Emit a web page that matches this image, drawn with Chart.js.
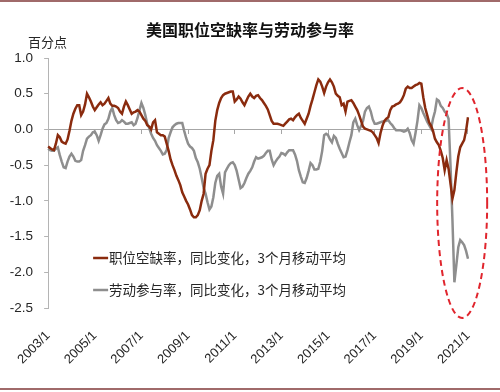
<!DOCTYPE html>
<html>
<head>
<meta charset="utf-8">
<script src="https://cdn.jsdelivr.net/npm/chart.js@4.4.1/dist/chart.umd.min.js"></script>
<style>
  html, body { margin: 0; padding: 0; background: #ffffff; }
  #wrap { width: 500px; height: 392px; position: relative; }
</style>
</head>
<body>
<div id="wrap"><canvas id="c" width="500" height="392"></canvas></div>
<script>
// ---------- data ----------
const titleText = '美国职位空缺率与劳动参与率';
const unitText = '百分点';
const seriesNames = ['职位空缺率，同比变化，3个月移动平均', '劳动参与率，同比变化，3个月移动平均'];

// monthly categories 2003/1 ... 2021/1
const categories = [];
for (let y = 2003; y <= 2021; y++) {
  for (let m = 1; m <= 12; m++) {
    if (y === 2021 && m > 1) break;
    categories.push(y + '/' + m);
  }
}
const labelEvery = 24; // one axis label every two years

// Job vacancy rate, YoY change, 3-month moving average (pp)
const vacancy = [
  -0.24,-0.26,-0.28,-0.29,-0.20,-0.08,-0.11,-0.17,-0.19,-0.20,-0.14,-0.02, // 2003
   0.12, 0.22, 0.29, 0.34, 0.34, 0.20, 0.25, 0.35, 0.50, 0.45, 0.39, 0.32, // 2004
   0.27, 0.31, 0.35, 0.38, 0.34, 0.36, 0.40, 0.44, 0.36, 0.33, 0.33, 0.32, // 2005
   0.30, 0.25, 0.22, 0.32, 0.39, 0.34, 0.28, 0.22, 0.24, 0.25, 0.27, 0.25, // 2006
   0.20, 0.15, 0.12, 0.06, 0.04, 0.00, 0.10, 0.13,-0.04,-0.06,-0.08,-0.08, // 2007
  -0.10,-0.20,-0.30,-0.42,-0.50,-0.57,-0.65,-0.71,-0.78,-0.88,-0.94,-1.00, // 2008
  -1.05,-1.12,-1.20,-1.23,-1.23,-1.20,-1.13,-1.00,-0.90,-0.62,-0.55,-0.50, // 2009
  -0.30,-0.15, 0.12, 0.27, 0.37, 0.44, 0.48, 0.50, 0.51, 0.52, 0.53, 0.53, // 2010
   0.39, 0.42, 0.46, 0.43, 0.38, 0.34, 0.40, 0.46, 0.50, 0.46, 0.44, 0.47, // 2011
   0.48, 0.44, 0.41, 0.37, 0.33, 0.28, 0.20, 0.12, 0.08, 0.08, 0.08, 0.07, // 2012
   0.06, 0.05, 0.08, 0.11, 0.14, 0.15, 0.13, 0.17, 0.20, 0.22, 0.16, 0.12, // 2013
   0.08, 0.15, 0.22, 0.33, 0.42, 0.52, 0.62, 0.70, 0.67, 0.60, 0.51, 0.60, // 2014
   0.66, 0.70, 0.66, 0.60, 0.50, 0.47, 0.45, 0.34, 0.36, 0.25, 0.39, 0.40, // 2015
   0.41, 0.37, 0.32, 0.27, 0.20, 0.12, 0.04, 0.01, 0.00,-0.01,-0.02,-0.04, // 2016
  -0.08,-0.12,-0.19,-0.05, 0.05, 0.12, 0.15, 0.17, 0.27, 0.32, 0.33, 0.35, // 2017
   0.36, 0.38, 0.42, 0.48, 0.57, 0.60, 0.58, 0.58, 0.60, 0.62, 0.63, 0.65, // 2018
   0.64, 0.45, 0.30, 0.20, 0.10, 0.05,-0.02,-0.13,-0.18,-0.22,-0.30,-0.40, // 2019
  -0.57,-0.43,-0.55,-0.76,-0.97,-0.85,-0.60,-0.38,-0.25,-0.20,-0.15,-0.02, // 2020
   0.17                                                                     // 2021
];

// Labor force participation rate, YoY change, 3-month moving average (pp)
const participation = [
  -0.27,-0.29,-0.30,-0.30,-0.27,-0.25,-0.36,-0.45,-0.53,-0.54,-0.45,-0.38, // 2003
  -0.34,-0.38,-0.44,-0.45,-0.45,-0.43,-0.30,-0.22,-0.13,-0.10,-0.08,-0.04, // 2004
  -0.03,-0.08,-0.16,-0.08, 0.01, 0.07, 0.09, 0.15, 0.25, 0.30, 0.20, 0.13, // 2005
   0.09, 0.10, 0.13, 0.11, 0.08, 0.08, 0.09, 0.10, 0.06, 0.08, 0.16, 0.27, // 2006
   0.37, 0.30, 0.20, 0.08, 0.02,-0.06,-0.12,-0.16,-0.22,-0.26,-0.30,-0.35, // 2007
  -0.34,-0.29,-0.12,-0.04, 0.03, 0.06, 0.08, 0.09, 0.09, 0.09,-0.02,-0.12, // 2008
  -0.20,-0.24,-0.26,-0.30,-0.40,-0.46,-0.55,-0.68,-0.82,-0.90,-1.02,-1.12, // 2009
  -1.08,-0.95,-0.75,-0.65,-0.62,-0.80,-0.90,-0.60,-0.55,-0.50,-0.47,-0.46, // 2010
  -0.50,-0.58,-0.70,-0.82,-0.80,-0.75,-0.68,-0.62,-0.58,-0.53,-0.45,-0.39, // 2011
  -0.41,-0.40,-0.39,-0.37,-0.33,-0.30,-0.30,-0.42,-0.50,-0.45,-0.41,-0.38, // 2012
  -0.33,-0.34,-0.36,-0.32,-0.29,-0.29,-0.29,-0.35,-0.44,-0.57,-0.66,-0.74, // 2013
  -0.75,-0.68,-0.58,-0.47,-0.50,-0.56,-0.56,-0.55,-0.45,-0.30,-0.08,-0.06, // 2014
  -0.08,-0.14,-0.18,-0.09,-0.12,-0.20,-0.27,-0.33,-0.39,-0.38,-0.29,-0.18, // 2015
  -0.08, 0.10, 0.15, 0.06,-0.01, 0.05, 0.12, 0.25, 0.30, 0.32, 0.25, 0.14, // 2016
   0.08, 0.08, 0.09, 0.10, 0.11, 0.11, 0.12, 0.13, 0.09, 0.06, 0.02,-0.01, // 2017
  -0.01,-0.01,-0.02,-0.03,-0.02, 0.01,-0.05,-0.15,-0.20,-0.05, 0.12, 0.34, // 2018
   0.30, 0.23, 0.17, 0.11, 0.06, 0.01, 0.15, 0.25, 0.42, 0.40, 0.33, 0.30, // 2019
   0.25, 0.22, 0.15,-0.50,-1.27,-2.14,-1.90,-1.65,-1.55,-1.58,-1.62,-1.70, // 2020
  -1.81                                                                     // 2021
];

const yMin = -2.5, yMax = 1.0, yStep = 0.5;
// highlighted region (dashed ellipse) around the 2020 shock: centre category + value
const highlightCenter = { index: 213, value: -1.03 };

// ---------- styles ----------
const colVacancy = '#8a2b0e';
const colPart = '#8e8e8e';
const axisGray = '#b4b4b4';
const textColor = '#262626';
const cjk = '"Noto Sans CJK SC", "Noto Sans", sans-serif';
const latin = '"Liberation Sans", Arial, sans-serif';

function keepEvery(scale) {
  scale.ticks = scale.ticks.filter(t => t.value % labelEvery === 0);
}

const overlay = {
  id: 'overlay',
  beforeDraw(chart) {
    const ctx = chart.ctx;
    ctx.save();
    ctx.fillStyle = '#ffffff';
    ctx.fillRect(0, 0, chart.width, chart.height);
    ctx.restore();
  },
  afterDraw(chart) {
    const { ctx, chartArea, scales } = chart;
    ctx.save();
    // frame lines
    ctx.fillStyle = '#a06a6a';
    ctx.fillRect(0, 0, chart.width, 2);
    ctx.fillRect(0, 388, chart.width, 2);
    // title
    ctx.fillStyle = '#111111';
    ctx.font = 'bold 16px ' + cjk;
    ctx.textAlign = 'center';
    ctx.textBaseline = 'middle';
    ctx.fillText(titleText, 250, 30);
    // unit
    ctx.font = '13px ' + cjk;
    ctx.fillStyle = textColor;
    ctx.textAlign = 'left';
    ctx.fillText(unitText, 28, 42);
    // legend inside plot area
    const lx = chartArea.left + 45;
    const ly = [chartArea.top + 200, chartArea.top + 232];
    chart.data.datasets.forEach((ds, i) => {
      ctx.strokeStyle = ds.borderColor;
      ctx.lineWidth = ds.borderWidth;
      ctx.beginPath();
      ctx.moveTo(lx, ly[i]);
      ctx.lineTo(lx + 15, ly[i]);
      ctx.stroke();
      ctx.fillStyle = textColor;
      ctx.font = '13.5px ' + cjk;
      ctx.textAlign = 'left';
      ctx.textBaseline = 'middle';
      ctx.fillText(ds.label, lx + 16, ly[i]);
    });
    // dashed ellipse highlight
    const cx = scales.x.getPixelForValue(highlightCenter.index);
    const cy = scales.y.getPixelForValue(highlightCenter.value);
    ctx.strokeStyle = '#e0252d';
    ctx.lineWidth = 2;
    ctx.setLineDash([6, 4]);
    ctx.beginPath();
    ctx.ellipse(cx, cy, 25, 115, 0, 0, Math.PI * 2);
    ctx.stroke();
    ctx.restore();
  }
};

new Chart(document.getElementById('c'), {
  type: 'line',
  data: {
    labels: categories,
    datasets: [
      { label: seriesNames[0], data: vacancy, borderColor: colVacancy, borderWidth: 2.5,
        pointRadius: 0, tension: 0, fill: false },
      { label: seriesNames[1], data: participation, borderColor: colPart, borderWidth: 2.5,
        pointRadius: 0, tension: 0, fill: false }
    ]
  },
  options: {
    responsive: false,
    animation: false,
    devicePixelRatio: 1,
    layout: { padding: { top: 58, right: 32, left: 0, bottom: 0 } },
    plugins: { legend: { display: false }, tooltip: { enabled: false }, title: { display: false } },
    scales: {
      x: {
        type: 'category',
        position: 'bottom',
        offset: false,
        grid: { display: false, drawTicks: false },
        border: { display: false },
        afterBuildTicks: keepEvery,
        afterFit: s => { s.height = 84; },
        ticks: {
          autoSkip: false, maxRotation: 45, minRotation: 45, padding: 20,
          color: textColor, font: { family: latin, size: 13 },
          callback: function (v) { return this.getLabelForValue(v); }
        }
      },
      x2: {
        type: 'category',
        position: { y: 0 },
        offset: false,
        grid: { display: true, drawOnChartArea: false, drawTicks: true, tickLength: 4, color: '#a6a6a6' },
        border: { display: true, color: '#a6a6a6', width: 1 },
        afterBuildTicks: keepEvery,
        ticks: { display: false, autoSkip: false }
      },
      y: {
        min: yMin, max: yMax,
        afterFit: s => { s.width = 43; },
        grid: { display: true, drawOnChartArea: false, drawTicks: true, tickLength: 4, color: axisGray },
        border: { display: true, color: axisGray },
        ticks: {
          stepSize: yStep, padding: 11, color: textColor,
          font: { family: latin, size: 13.5 },
          callback: v => Number(v).toFixed(1)
        }
      }
    }
  },
  plugins: [overlay]
});
</script>
</body>
</html>
